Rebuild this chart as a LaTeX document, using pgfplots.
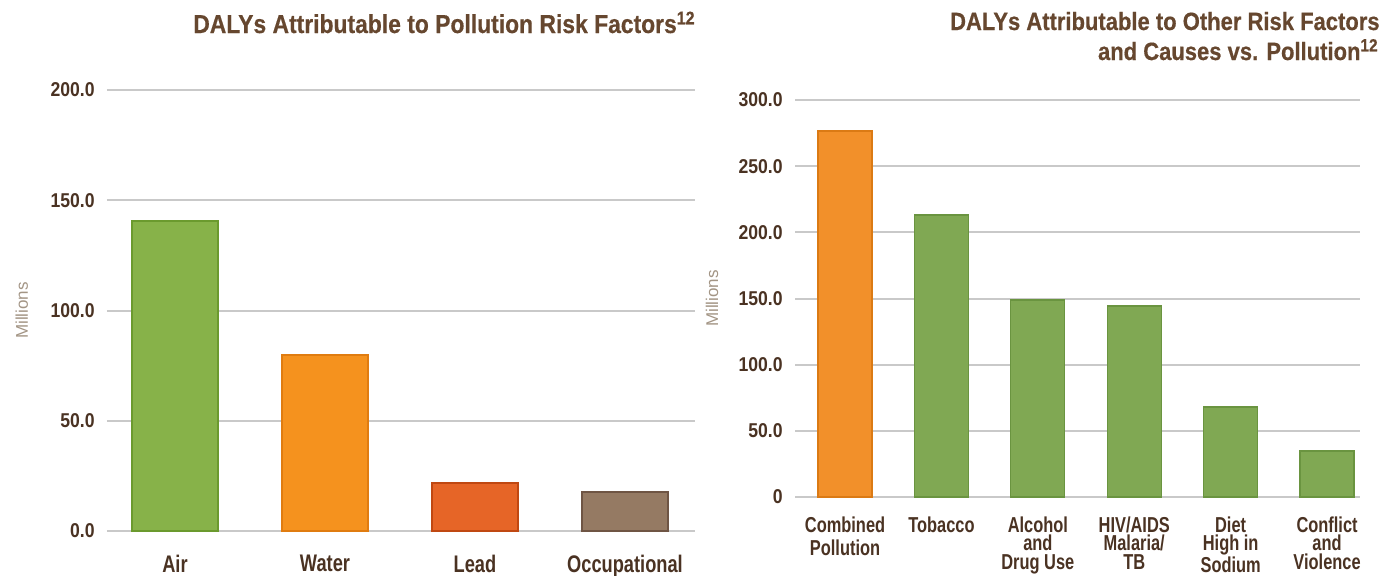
\documentclass[border=0pt]{standalone}
\usepackage{pgfplots}
\pgfplotsset{compat=1.18}
\usepackage{fontspec}
\setmainfont{Liberation Sans}
\newfontfamily\condf{Liberation Sans}[FakeStretch=0.76]
\newfontfamily\titlef{Liberation Sans}[FakeStretch=0.88, BoldFeatures={FakeBold=0.5}]
\newfontfamily\tickf{Liberation Sans}[FakeStretch=0.88]
\definecolor{titlebrown}{HTML}{66472F}
\definecolor{tickbrown}{HTML}{4A3222}
\definecolor{gridgray}{HTML}{C9C9C9}
\definecolor{labgray}{HTML}{A39585}
\definecolor{lgreen}{HTML}{87B249}
\definecolor{lgreenb}{HTML}{6B9A2E}
\definecolor{orng}{HTML}{F5921E}
\definecolor{orngb}{HTML}{E07C10}
\definecolor{leadc}{HTML}{E66527}
\definecolor{leadb}{HTML}{C04812}
\definecolor{occc}{HTML}{957A63}
\definecolor{occb}{HTML}{6F5544}
\definecolor{rgreen}{HTML}{80A853}
\definecolor{rgreenb}{HTML}{6A9440}
\definecolor{rorng}{HTML}{F2902A}
\definecolor{rorngb}{HTML}{DB7A14}
\pgfplotsset{
  common/.style={
    scale only axis,
    anchor=south west,
    axis line style={draw=none},
    tick style={draw=none},
    ymajorgrids,
    major grid style={draw=gridgray, line width=1pt},
    yticklabel style={anchor=east, inner sep=0pt, xshift=-6pt,
      font=\tickf\bfseries\fontsize{10}{10}\selectfont, text=tickbrown},
    ylabel={Millions},
    ylabel style={anchor=center, font=\fontsize{8.5}{9}\selectfont, text=labgray},
  }
}
\begin{document}
\begin{tikzpicture}
\path[use as bounding box] (0pt,0pt) rectangle (699pt,287.5pt);
\node[anchor=base east, inner sep=0pt, text=titlebrown,
  font=\titlef\bfseries\fontsize{13}{14}\selectfont] at (348pt,271pt)
  {DALYs Attributable to Pollution Risk Factors\textsuperscript{12}};
\node[anchor=base east, inner sep=0pt, text=titlebrown,
  font=\titlef\bfseries\fontsize{12.5}{15}\selectfont] at (690pt,272.5pt)
  {DALYs Attributable to Other Risk Factors};
\node[anchor=base east, inner sep=0pt, text=titlebrown,
  font=\titlef\bfseries\fontsize{12.5}{15}\selectfont] at (689.5pt,257.5pt)
  {and Causes vs. Pollution\textsuperscript{12}};

\begin{axis}[common,
  at={(53.5pt,22pt)}, width=294pt, height=220.5pt,
  xmin=-0.4533, xmax=3.4667, ymin=0, ymax=200,
  ytick={0,50,100,150,200},
  yticklabels={0.0,50.0,100.0,150.0,200.0},
  xtick={0,1,2,3},
  xticklabels={Air,Water,Lead,Occupational},
  xticklabel style={anchor=north, inner sep=0pt, yshift=-12pt,
    font=\condf\bfseries\fontsize{12}{12}\selectfont, text=tickbrown},
  ylabel style={at={(axis description cs:-0.145,0.5)}},
]
\addplot[ybar, bar shift=0pt, bar width=43pt, fill=lgreen, draw=lgreenb, line width=0.6pt] coordinates {(0,140.6)};
\addplot[ybar, bar shift=0pt, bar width=43pt, fill=orng, draw=orngb, line width=0.6pt] coordinates {(1,79.8)};
\addplot[ybar, bar shift=0pt, bar width=43pt, fill=leadc, draw=leadb, line width=0.6pt] coordinates {(2,21.8)};
\addplot[ybar, bar shift=0pt, bar width=43pt, fill=occc, draw=occb, line width=0.6pt] coordinates {(3,17.7)};
\end{axis}

\begin{axis}[common,
  at={(397.5pt,39pt)}, width=282.5pt, height=198.5pt,
  xmin=-0.519, xmax=5.342, ymin=0, ymax=300,
  ytick={0,50,100,150,200,250,300},
  yticklabels={0,50.0,100.0,150.0,200.0,250.0,300.0},
  xtick={0,1,2,3,4,5},
  xticklabels={{Combined\\[2.5pt]Pollution},Tobacco,{Alcohol\\and\\Drug Use},{HIV/AIDS\\Malaria/\\TB},{Diet\\High in\\Sodium},{Conflict\\and\\Violence}},
  xticklabel style={anchor=north, inner sep=0pt, yshift=-9.5pt, align=center,
    font=\condf\bfseries\fontsize{10.8}{9.3}\selectfont, text=tickbrown},
  ylabel style={at={(axis description cs:-0.147,0.5)}},
]
\addplot[ybar, bar shift=0pt, bar width=27pt, fill=rorng, draw=rorngb, line width=0.6pt] coordinates {(0,276.6)};
\addplot[ybar, bar shift=0pt, bar width=27pt, fill=rgreen, draw=rgreenb, line width=0.6pt] coordinates {(1,213.1) (2,148.9) (3,144.3) (4,68.0) (5,34.8)};
\end{axis}
\end{tikzpicture}
\end{document}
